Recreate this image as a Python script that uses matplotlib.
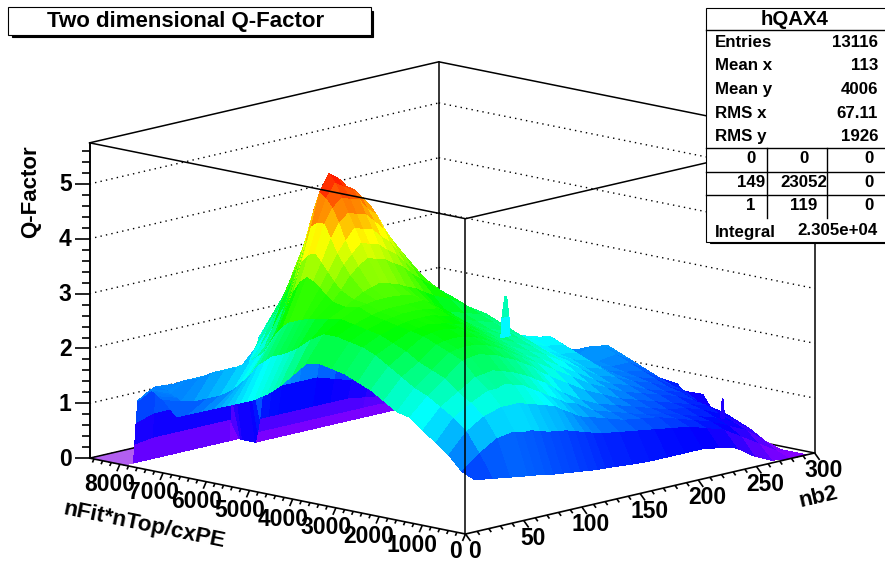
import numpy as np
import matplotlib
matplotlib.use('Agg')
import matplotlib.pyplot as plt
from matplotlib.colors import LinearSegmentedColormap
from matplotlib.patches import Rectangle
from mpl_toolkits.mplot3d import proj3d

plt.rcParams['font.family'] = ['Liberation Sans', 'DejaVu Sans']
plt.rcParams['font.weight'] = 'bold'

W, H = 885, 569

nb2_bins = [8, 23, 38, 53, 60, 68, 75, 83, 90, 98, 105, 113, 120, 128, 143, 158, 173, 188, 203, 218, 233, 248, 263, 278, 293]
nfit_bins = [0, 300, 600, 900, 1200, 1500, 1800, 2100, 2400, 2700, 3000, 3300, 3600, 3900, 4200, 4500,
             4650, 4800, 4950, 5100, 5250, 5400, 5550, 5700, 5850, 6000,
             6300, 6600, 6900, 7200, 7300, 7400, 7450, 7500, 7800, 7840, 7870, 7900]

# one line per nb2 bin, values along nfit_bins
q_factor = [
    [.95, 1.05, 1.3, 1.48, 1.66, 1.85, 1.9, 2.05, 2.2, 2.3, 2.4, 2.45, 2.5, 2.45, 2.2, 1.95, 1.85, 1.75, 1.68, 1.6, 1.55, 1.5, 1.45, 1.4, 1.35, 1.3, 1.2, 1.1, 1.0, 1.25, 1.3, 1.36, 1.38, 1.4, 1.15, .75, .35, 0],
    [.9, 1.3, 1.65, 1.85, 2.0, 2.15, 2.25, 2.4, 2.55, 2.7, 2.8, 2.85, 2.9, 2.9, 2.75, 2.55, 2.47, 2.4, 2.35, 2.3, 2.2, 2.1, 1.95, 1.8, 1.68, 1.55, 1.4, 1.3, 1.2, 1.15, 1.2, 1.22, 1.25, 1.3, 1.33, .85, .4, 0],
    [.85, 1.5, 1.85, 2.05, 2.2, 2.4, 2.5, 2.6, 2.75, 2.85, 2.95, 3.0, 3.05, 3.1, 3.05, 3.0, 2.98, 2.95, 2.9, 2.85, 2.75, 2.6, 2.4, 2.2, 2.1, 2.0, 1.84, 1.74, 1.65, 1.5, 1.47, 1.44, 1.43, 1.42, 1.3, .85, .4, 0],
    [.8, 1.55, 1.95, 2.2, 2.4, 2.65, 2.75, 2.85, 2.95, 3.0, 3.05, 3.1, 3.15, 3.25, 3.2, 3.25, 3.35, 3.45, 3.55, 3.6, 3.5, 3.3, 3.0, 2.7, 2.45, 2.2, 1.9, 1.7, 1.63, 1.55, 1.5, 1.45, 1.43, 1.42, 1.29, .85, .4, 0],
    [.78, 1.5, 1.95, 2.2, 2.42, 2.68, 2.78, 2.88, 2.98, 3.02, 3.08, 3.12, 3.18, 3.27, 3.3, 3.42, 3.55, 3.7, 3.85, 4.0, 3.95, 3.8, 3.4, 3.05, 2.75, 2.45, 2.05, 1.8, 1.65, 1.55, 1.5, 1.45, 1.43, 1.42, 1.3, .85, .4, 0],
    [.75, 1.5, 1.95, 2.25, 2.45, 2.7, 2.8, 2.9, 3.0, 3.05, 3.1, 3.15, 3.2, 3.3, 3.4, 3.65, 3.82, 4.0, 4.25, 4.5, 4.5, 4.4, 4.0, 3.6, 3.2, 2.9, 2.4, 2.0, 1.6, 1.55, 1.5, 1.45, 1.43, 1.42, 1.3, .85, .4, 0],
    [.72, 1.45, 1.9, 2.2, 2.4, 2.65, 2.78, 2.88, 2.98, 3.02, 3.1, 3.15, 3.2, 3.3, 3.45, 3.78, 3.98, 4.2, 4.5, 4.75, 4.9, 5.0, 4.6, 4.15, 3.75, 3.35, 2.8, 2.3, 1.9, 1.55, 1.5, 1.45, 1.43, 1.42, 1.32, .85, .4, 0],
    [.7, 1.4, 1.85, 2.15, 2.35, 2.6, 2.75, 2.85, 2.95, 3.0, 3.1, 3.15, 3.2, 3.3, 3.5, 3.9, 4.15, 4.4, 4.65, 4.9, 5.15, 5.3, 4.95, 4.5, 4.1, 3.75, 3.2, 2.6, 2.2, 1.5, 1.45, 1.4, 1.38, 1.36, 1.34, .85, .4, 0],
    [.68, 1.38, 1.8, 2.05, 2.28, 2.52, 2.68, 2.78, 2.88, 2.95, 3.05, 3.12, 3.2, 3.28, 3.45, 3.85, 4.1, 4.35, 4.6, 4.85, 5.05, 5.2, 5.1, 4.85, 4.5, 4.2, 3.55, 2.9, 2.45, 2.0, 1.42, 1.3, 1.25, 1.2, 1.3, .85, .4, 0],
    [.66, 1.35, 1.75, 1.95, 2.2, 2.45, 2.6, 2.7, 2.8, 2.9, 3.0, 3.1, 3.2, 3.25, 3.4, 3.8, 4.05, 4.3, 4.55, 4.8, 4.95, 5.0, 5.1, 5.1, 4.95, 4.75, 3.9, 3.2, 2.7, 2.2, 1.2, .45, .2, 0, 0, 0, 0, 0],
    [.64, 1.3, 1.65, 1.85, 2.1, 2.35, 2.5, 2.6, 2.7, 2.8, 2.9, 3.0, 3.1, 3.15, 3.32, 3.7, 3.92, 4.15, 4.4, 4.6, 4.8, 4.9, 4.85, 4.75, 4.6, 4.45, 3.65, 3.0, 2.5, 2.0, 1.1, .45, .2, 0, 0, 0, 0, 0],
    [.62, 1.25, 1.55, 1.75, 2.0, 2.25, 2.4, 2.5, 2.6, 2.7, 2.8, 2.9, 3.0, 3.05, 3.25, 3.6, 3.8, 4.0, 4.22, 4.45, 4.6, 4.7, 4.6, 4.5, 4.35, 4.2, 3.4, 2.8, 2.3, 1.8, 1.0, .45, .2, 0, 0, 0, 0, 0],
    [.61, 1.2, 1.45, 1.65, 1.88, 2.12, 2.3, 2.4, 2.5, 2.6, 2.7, 2.78, 2.85, 2.92, 3.15, 3.45, 3.62, 3.8, 4.0, 4.15, 4.25, 4.25, 4.15, 4.05, 3.9, 3.75, 3.1, 2.6, 2.15, 1.7, 1.0, .45, .2, 0, 0, 0, 0, 0],
    [.6, 1.15, 1.4, 1.6, 1.75, 2.0, 2.2, 2.3, 2.4, 2.5, 2.6, 2.65, 2.7, 2.8, 3.05, 3.3, 3.45, 3.6, 3.75, 3.85, 3.85, 3.8, 3.7, 3.6, 3.45, 3.3, 2.8, 2.4, 2.0, 1.6, 1.0, .45, .2, 0, 0, 0, 0, 0],
    [.57, 1.1, 1.3, 1.4, 1.55, 1.8, 2.0, 2.15, 2.25, 2.35, 2.45, 2.5, 2.6, 2.7, 2.9, 3.05, 3.12, 3.2, 3.3, 3.4, 3.35, 3.3, 3.15, 3.0, 2.85, 2.7, 2.4, 2.1, 1.8, 1.5, 1.0, .45, .2, 0, 0, 0, 0, 0],
    [.55, 1.05, 1.2, 1.3, 1.4, 1.6, 1.8, 1.95, 2.1, 2.2, 2.3, 2.4, 2.5, 2.6, 2.7, 2.8, 2.82, 2.85, 2.9, 2.95, 2.88, 2.8, 2.7, 2.6, 2.45, 2.3, 2.1, 1.8, 1.6, 1.3, .9, .45, .2, 0, 0, 0, 0, 0],
    [.55, 1.0, 1.15, 1.2, 1.3, 1.45, 1.6, 1.75, 1.9, 2.0, 2.1, 2.2, 2.3, 2.4, 2.5, 2.5, 2.52, 2.55, 2.58, 2.6, 2.5, 2.4, 2.3, 2.2, 2.1, 2.0, 1.8, 1.6, 1.4, 1.1, .8, .45, .2, 0, 0, 0, 0, 0],
    [.55, .95, 1.1, 1.1, 1.2, 1.3, 1.45, 1.55, 1.7, 1.8, 1.85, 1.9, 1.95, 2.03, 2.1, 2.15, 2.22, 2.3, 2.35, 2.4, 2.3, 2.2, 2.1, 2.0, 1.9, 1.8, 1.6, 1.4, 1.2, 1.0, .7, .4, .2, 0, 0, 0, 0, 0],
    [.55, .9, 1.0, 1.05, 1.1, 1.2, 1.3, 1.4, 1.5, 1.6, 1.7, 1.75, 1.85, 1.93, 1.95, 1.95, 1.98, 2.0, 2.02, 2.05, 1.98, 1.9, 1.8, 1.7, 1.6, 1.5, 1.3, 1.1, 1.0, .8, .6, .35, .2, 0, 0, 0, 0, 0],
    [.5, .8, .9, .95, 1.0, 1.1, 1.2, 1.3, 1.4, 1.5, 1.6, 1.7, 1.8, 1.9, 1.85, 1.8, 1.78, 1.75, 1.75, 1.75, 1.68, 1.6, 1.5, 1.4, 1.3, 1.2, 1.1, .9, .8, .6, .45, .3, .15, 0, 0, 0, 0, 0],
    [.42, .7, .8, .85, .95, 1.0, 1.1, 1.15, 1.25, 1.3, 1.35, 1.4, 1.45, 1.4, 1.4, 1.42, 1.45, 1.45, 1.45, 1.45, 1.38, 1.3, 1.2, 1.1, 1.05, 1.0, .9, .7, .6, .5, .4, .25, .1, 0, 0, 0, 0, 0],
    [.2, .5, .65, .75, .85, .9, 1.0, 1.05, 1.15, 1.2, 1.25, 1.3, 1.35, 1.3, 1.3, 1.32, 1.3, 1.3, 1.28, 1.25, 1.15, 1.05, .95, .9, .85, .8, .7, .6, .5, .4, .3, .2, .1, 0, 0, 0, 0, 0],
    [.05, .3, .5, .6, .7, .8, .85, .95, 1.0, 1.1, 1.2, 1.3, 1.4, 1.5, 1.45, 1.35, 1.32, 1.3, 1.25, 1.2, 1.1, 1.0, .9, .8, .75, .7, .6, .5, .4, .3, .2, .1, .05, 0, 0, 0, 0, 0],
    [0, .1, .25, .4, .5, .6, .65, .7, .85, .9, 1.0, 1.1, 1.2, 1.3, 1.4, 1.27, 1.18, 1.1, 1.02, .95, .88, .8, .75, .7, .65, .6, .5, .4, .3, .2, .15, .1, .05, 0, 0, 0, 0, 0],
    [0, 0, 0, .07, .15, .26, .31, .37, .72, .62, .82, .7, .85, .75, .88, .85, .82, .8, .78, .75, .72, .7, .65, .6, .55, .5, .4, .3, .2, .1, .05, .05, 0, 0, 0, 0, 0, 0],
]

spike_a_nb2 = [[220, 228], [221, 227], [223.5, 225]]
spike_a_nfit = [[5110, 5110], [5110, 5110], [5110, 5110]]
spike_a_q = [[1.68, 1.68], [2.05, 2.05], [2.42, 2.42]]
spike_b_nb2 = [[293, 293], [293, 293]]
spike_b_nfit = [[1890, 1990], [1935, 1950]]
spike_b_q = [[.36, .36], [.72, .72]]

x_major = [0, 50, 100, 150, 200, 250, 300]
y_major = [0, 1000, 2000, 3000, 4000, 5000, 6000, 7000, 8000]
z_major = [0, 1, 2, 3, 4, 5]
x_max, y_max, z_max = 300, 8700, 5.75

stats_names = ['Entries', 'Mean x', 'Mean y', 'RMS x', 'RMS y']
stats_values = ['13116', '113', '4006', '67.11', '1926']
over_under = [['0', '0', '0'], ['149', '23052', '0'], ['1', '119', '0']]

# ROOT rainbow palette, as seen on the surface
palette = LinearSegmentedColormap.from_list('root_rainbow', [
    (0.0, '#8a00ff'), (0.7 / 5.3, '#0000ff'), (1.9 / 5.3, '#00ffff'),
    (3.0 / 5.3, '#00ff00'), (4.2 / 5.3, '#ffff00'), (1.0, '#ff0000')])

fig = plt.figure(figsize=(W / 100, H / 100), dpi=100)
ax = fig.add_axes([0, 0, 1, 1], projection='3d', proj_type='ortho', computed_zorder=False)
ax.set_axis_off()
ax.set_xlim(0, x_max)
ax.set_ylim(0, y_max)
ax.set_zlim(0, z_max)
ax.view_init(elev=12.5, azim=-137)
ax.set_box_aspect((512, 514, 323))


def to_px(x, y, z):
    ax.apply_aspect()
    xs, ys, _ = proj3d.proj_transform(x, y, z, ax.get_proj())
    px, py = ax.transData.transform((xs, ys))
    return px, H - py


def place(left, bottom, side):
    ax.set_position([left / W, bottom / H, side / W, side / H])


# fit the projected box on the canvas
side, left, bottom = 500.0, 190.0, 30.0
place(left, bottom, side)
side *= 725.0 / (to_px(x_max, 0, 0)[0] - to_px(0, y_max, 0)[0])
place(left, bottom, side)
front = to_px(0, 0, 0)
left += 465.5 - front[0]
bottom += front[1] - 534.0
place(left, bottom, side)

# back walls and floor
box_kw = dict(color='black', lw=1.1, zorder=1.5)
grid_kw = dict(color='black', lw=1.0, ls=(0, (1, 3)), zorder=1.4)
for q in z_major[1:]:
    ax.plot([0, x_max], [y_max, y_max], [q, q], **grid_kw)
    ax.plot([x_max, x_max], [y_max, 0], [q, q], **grid_kw)
ax.plot([0, x_max, x_max], [y_max, y_max, 0], [0, 0, 0], **box_kw)
ax.plot([0, x_max, x_max], [y_max, y_max, 0], [z_max, z_max, z_max], **box_kw)
ax.plot([0, 0], [y_max, y_max], [0, z_max], **box_kw)
ax.plot([x_max, x_max], [y_max, y_max], [0, z_max], **box_kw)
ax.plot([x_max, x_max], [0, 0], [0, z_max], **box_kw)

floor_color = '#b25ff0'
ax.plot_surface(np.array([[0, 300], [0, 300]]), np.array([[7900, 7900], [y_max, y_max]]), np.zeros((2, 2)),
                color=floor_color, shade=False, linewidth=0, antialiased=False, zorder=1)

X, Y = np.meshgrid(nb2_bins, nfit_bins)
Z = np.array(q_factor).T
ax.plot_surface(X, Y, Z, rstride=1, cstride=1, cmap=palette, vmin=0, vmax=5.3, shade=False,
                linewidth=0, antialiased=False, zorder=2)
for sx_, sy_, sz_ in [(spike_a_nb2, spike_a_nfit, spike_a_q), (spike_b_nb2, spike_b_nfit, spike_b_q)]:
    ax.plot_surface(np.array(sx_), np.array(sy_), np.array(sz_), rstride=1, cstride=1, cmap=palette, vmin=0,
                    vmax=5.3, shade=False, linewidth=0, antialiased=False, zorder=2.2)
ax.plot_surface(np.array([[272, 300], [300, 300]]), np.array([[0, 0], [0, 810]]), np.zeros((2, 2)),
                color=floor_color, shade=False, linewidth=0, antialiased=False, zorder=2.5)

# front edges go over the surface
front_kw = dict(color='black', lw=1.1, zorder=3)
ax.plot([0, 0], [0, 0], [0, z_max], **front_kw)
ax.plot([0, 0, x_max], [y_max, 0, 0], [z_max, z_max, z_max], **front_kw)

# overlay in pixels for ticks, labels and panels
ov = fig.add_axes([0, 0, 1, 1], zorder=5)
ov.set_xlim(0, W)
ov.set_ylim(H, 0)
ov.set_axis_off()
ov.patch.set_alpha(0)

axis_kw = dict(color='black', lw=1.2, solid_capstyle='butt')
label_kw = dict(fontsize=16.5, ha='center', va='center', fontweight='bold')


def line_px(p, q, **kw):
    ov.plot([p[0], q[0]], [p[1], q[1]], **kw)


line_px(to_px(0, 0, 0), to_px(x_max, 0, 0), **axis_kw)
line_px(to_px(0, 0, 0), to_px(0, y_max, 0), **axis_kw)
line_px(to_px(0, y_max, 0), to_px(0, y_max, z_max), **axis_kw)

for v in np.arange(0, x_max + 1, 10):
    p = to_px(v, 0, 0)
    k = 1.0 if v % 50 == 0 else 0.5
    line_px(p, (p[0] + 5 * k, p[1] + 7 * k), **axis_kw)
for v in np.arange(0, y_max, 200):
    p = to_px(0, v, 0)
    k = 1.0 if v % 1000 == 0 else 0.5
    line_px(p, (p[0] - 3 * k, p[1] + 7 * k), **axis_kw)
for v in np.arange(0, z_max, 0.2):
    p = to_px(0, y_max, v)
    k = 15 if abs(v - round(v)) < 1e-6 else 8
    line_px(p, (p[0] - k, p[1]), **axis_kw)

for v in x_major:
    p = to_px(v, 0, 0)
    ov.text(p[0] + 9, p[1] + 18, str(v), **label_kw)
for v in y_major:
    p = to_px(0, v, 0)
    ov.text(p[0] - 10, p[1] + (17 if v == 0 else 20), str(v), **label_kw)
for v in z_major:
    p = to_px(0, y_max, v)
    ov.text(p[0] - 18, p[1] + 1, str(v), fontsize=16.5, ha='right', va='center', fontweight='bold')

ov.text(144, 525, 'nFit*nTop/cxPE', fontsize=16.2, rotation=-11.7, ha='center', va='center', fontweight='bold',
        rotation_mode='anchor')
ov.text(818, 497, 'nb2', fontsize=16, rotation=13, ha='center', va='center', fontweight='bold',
        rotation_mode='anchor')
ov.text(31, 192, 'Q-Factor', fontsize=16, rotation=90, ha='center', va='center', fontweight='bold')

# title box
ov.add_patch(Rectangle((12, 11), 361, 26, fc='black', ec='black', lw=0.8))
ov.add_patch(Rectangle((8, 7), 363, 28, fc='white', ec='black', lw=0.8))
ov.text(186, 21, 'Two dimensional Q-Factor', fontsize=16, ha='center', va='center', fontweight='bold')

# stats box
ov.add_patch(Rectangle((710, 12), 180, 231, fc='black', ec='black', lw=0.8))
ov.add_patch(Rectangle((706, 8), 185, 233.5, fc='white', ec='black', lw=0.8))
ov.text(795, 19, 'hQAX4', fontsize=14.7, ha='center', va='center', fontweight='bold')
sep_kw = dict(color='black', lw=1.0)
for y in [30, 148, 172, 195]:
    ov.plot([706, 885], [y, y], **sep_kw)
for x in [767, 827]:
    ov.plot([x, x], [148, 218], **sep_kw)
for i, (name, val) in enumerate(zip(stats_names, stats_values)):
    y = [42, 65, 89, 113, 136][i]
    ov.text(715, y, name, fontsize=12.2, ha='left', va='center', fontweight='bold')
    ov.text(878, y, val, fontsize=12.2, ha='right', va='center', fontweight='bold')
for row, y in zip(over_under, [158, 182, 205]):
    for txt, x in zip(row, [751, 804, 869]):
        ov.text(x, y, txt, fontsize=12.2, ha='center', va='center', fontweight='bold')
ov.text(715, 232, 'Integral', fontsize=12.2, ha='left', va='center', fontweight='bold')
ov.text(837, 230, '2.305e+04', fontsize=12.2, ha='center', va='center', fontweight='bold')

fig.savefig('out.png', dpi=100)
